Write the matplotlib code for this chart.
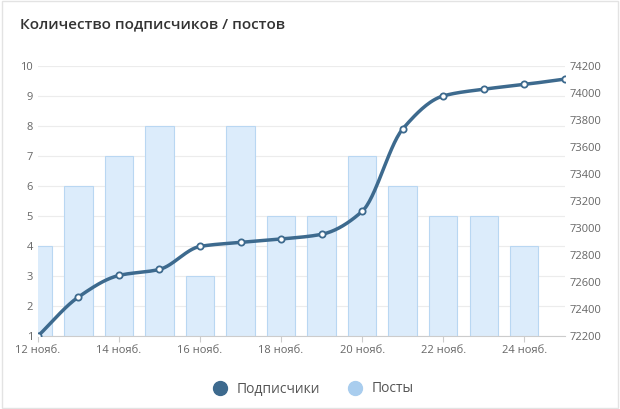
import numpy as np
import matplotlib
matplotlib.use("Agg")
import matplotlib.pyplot as plt
from matplotlib.lines import Line2D

plt.rcParams['font.family'] = ['Open Sans', 'DejaVu Sans']

days = [12, 13, 14, 15, 16, 17, 18, 19, 20, 21, 22, 23, 24, 25]
posts = [4, 6, 7, 8, 3, 8, 5, 5, 7, 6, 5, 5, 4]
subs = [72200, 72490, 72650, 72695, 72865, 72895, 72920, 72955, 73125,
        73735, 73980, 74030, 74065, 74105]
tick_days = [12, 14, 16, 18, 20, 22, 24]
tick_labels = [f"{d} нояб." for d in tick_days]


def pchip(x, y, xs):
    # monotone cubic, like the smooth line in the original
    x = np.asarray(x, float); y = np.asarray(y, float)
    h = np.diff(x); d = np.diff(y) / h
    m = np.zeros_like(y)
    for i in range(1, len(y) - 1):
        if d[i - 1] * d[i] > 0:
            m[i] = 2 / (1 / d[i - 1] + 1 / d[i])
    m[0], m[-1] = d[0], d[-1]
    idx = np.clip(np.searchsorted(x, xs) - 1, 0, len(h) - 1)
    t = (xs - x[idx]) / h[idx]
    h00 = 2 * t**3 - 3 * t**2 + 1; h10 = t**3 - 2 * t**2 + t
    h01 = -2 * t**3 + 3 * t**2; h11 = t**3 - t**2
    return (h00 * y[idx] + h10 * h[idx] * m[idx]
            + h01 * y[idx + 1] + h11 * h[idx] * m[idx + 1])


fig = plt.figure(figsize=(6.2, 4.09), dpi=100)
fig.patches.append(plt.Rectangle((0.003, 0.003), 0.994, 0.994, transform=fig.transFigure,
                                 fill=False, edgecolor='#e3e3e3', lw=1))
ax = fig.add_axes([0.061, 0.178, 0.85, 0.66])
ax.bar(days[:-1], posts, width=0.7, color='#dcecfb', edgecolor='#b9d7f2', lw=0.8, zorder=2)
ax.set_ylim(1, 10)
ax.set_xlim(12, 25)
ax.set_yticks(range(1, 11))
ax.grid(axis='y', color='#ececec', lw=0.8, zorder=0)
ax.set_xticks(tick_days)
ax.set_xticklabels(tick_labels)

ax2 = ax.twinx()
xs = np.linspace(12, 25, 400)
ax2.plot(xs, pchip(days, subs, xs), color='#3d6a8e', lw=2.5, zorder=3)
ax2.plot(days, subs, 'o', ms=4.5, mfc='white', mec='#3d6a8e', mew=1.3, zorder=4)
ax2.set_ylim(72200, 74200)
ax2.set_yticks(range(72200, 74201, 200))

for a in (ax, ax2):
    for s in a.spines.values():
        s.set_visible(False)
    a.tick_params(length=0, labelsize=8, colors='#666666')
ax.spines['bottom'].set_visible(True)
ax.spines['bottom'].set_color('#cccccc')
ax.tick_params(axis='x', length=4, color='#cccccc', pad=2)

fig.text(0.032, 0.93, "Количество подписчиков / постов", fontsize=11,
         fontweight='semibold', color='#333333')
handles = [Line2D([], [], marker='o', ls='', ms=10, color='#3d6a8e'),
           Line2D([], [], marker='o', ls='', ms=10, color='#a9cdee')]
fig.legend(handles, ['Подписчики', 'Посты'], loc='lower center', ncol=2,
           bbox_to_anchor=(0.5, 0.0), frameon=False, fontsize=10,
           handletextpad=0.2, columnspacing=1.5, labelcolor='#555555')
fig.savefig("out.png", dpi=100)
